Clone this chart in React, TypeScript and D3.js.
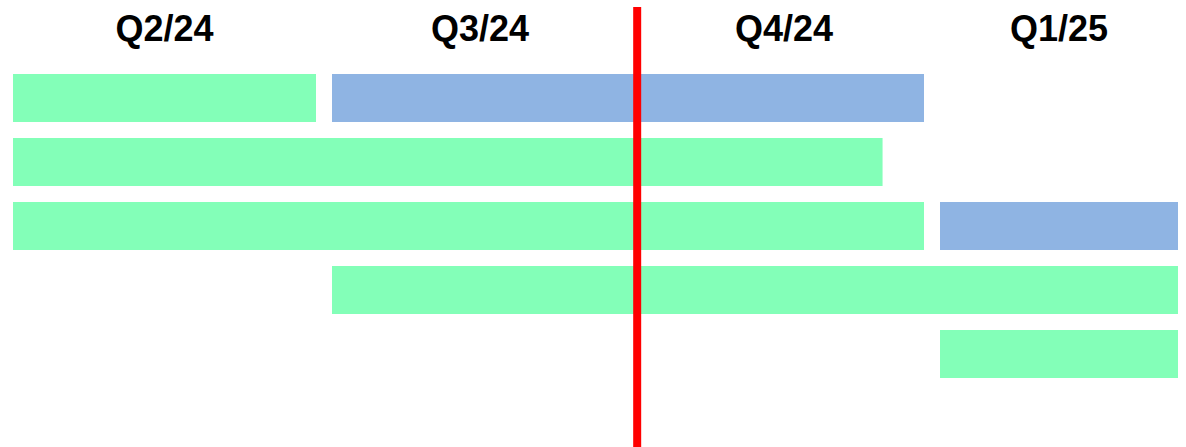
import React from "react";
import * as d3 from "d3";

// ---- data ----
const quarters = ["Q2/24", "Q3/24", "Q4/24", "Q1/25"];
const rows = ["r1", "r2", "r3", "r4", "r5"];
// tasks: row, start/end in quarter units, kind
const taskRows = ["r1", "r1", "r2", "r3", "r3", "r4", "r5"];
const taskStarts = [0, 1, 0, 0, 3, 1, 3];
const taskEnds = [1, 3, 2.86, 3, 4, 4, 4];
const taskKinds = ["green", "blue", "green", "green", "blue", "green", "green"];
const todayMarker = 2.004;

const W = 1186;
const H = 447;
const quarterEdges = [5, 324, 636, 932, 1186];
const colors: Record<string, string> = { green: "#83FFB8", blue: "#8FB4E3" };

export default function App() {
  const x = d3
    .scaleLinear()
    .domain(d3.range(quarters.length + 1))
    .range(quarterEdges);
  const y = d3
    .scaleBand<string>()
    .domain(rows)
    .range([66, 386])
    .paddingInner(0.25)
    .paddingOuter(0.125);
  const inset = 8;

  return (
    <svg
      width={W}
      height={H}
      style={{ position: "absolute", left: 0, top: 0, display: "block" }}
    >
      <rect width={W} height={H} fill="#fff" />
      {quarters.map((q, i) => (
        <text
          key={q}
          x={(x(i) + x(i + 1)) / 2}
          y={41}
          textAnchor="middle"
          fontFamily="Liberation Sans, Arial, sans-serif"
          fontWeight="bold"
          fontSize={36}
          fill="#000"
        >
          {q}
        </text>
      ))}
      {taskRows.map((r, i) => (
        <rect
          key={i}
          x={x(taskStarts[i]) + inset}
          y={y(r)}
          width={x(taskEnds[i]) - x(taskStarts[i]) - 2 * inset}
          height={y.bandwidth()}
          fill={colors[taskKinds[i]]}
        />
      ))}
      <line
        x1={x(todayMarker)}
        x2={x(todayMarker)}
        y1={7}
        y2={H}
        stroke="#FF0000"
        strokeWidth={8}
      />
    </svg>
  );
}
